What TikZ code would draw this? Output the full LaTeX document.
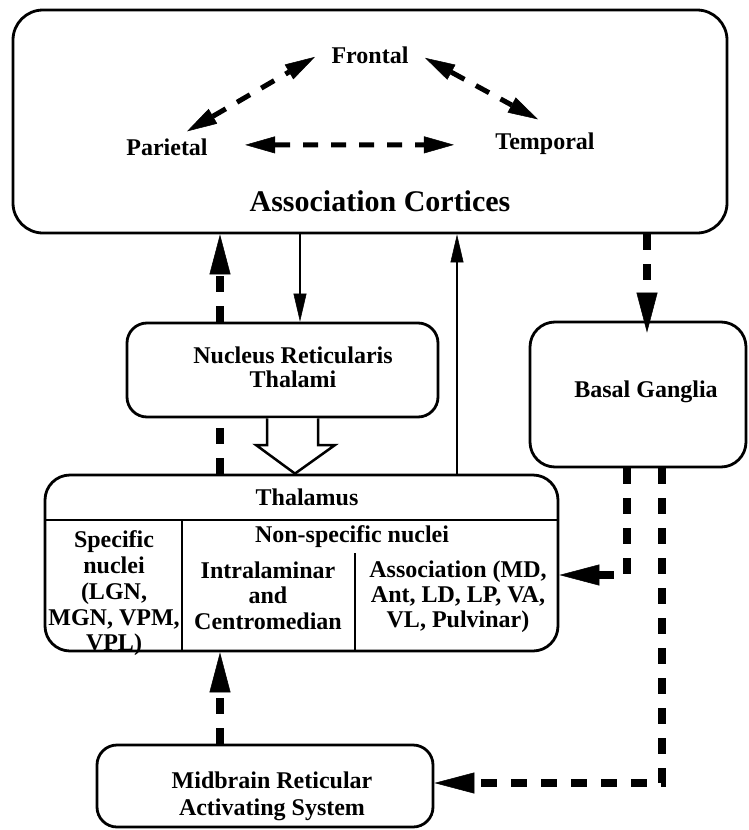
\documentclass[tikz,border=0pt]{standalone}
\usepackage{fontspec}
\setmainfont{Liberation Serif}
\usetikzlibrary{arrows.meta,calc}
\begin{document}
\begin{tikzpicture}[x=1pt,y=-1pt,
  box/.style={draw,line width=2.8pt,rounded corners=#1,inner sep=0pt,fill=white},
  box/.default=20pt,
  lbl/.style={inner sep=0pt,anchor=base,font=\fontsize{24}{26}\selectfont\bfseries},
  thinarrow/.style={line width=2pt,-{Triangle[length=28pt,width=13pt,line width=0.5pt]}},
  heavy/.style={line width=7.5pt,dash pattern=on 16pt off 14pt,-{Triangle[length=40pt,width=21pt,line width=0.5pt]}},
  heavyplain/.style={line width=7.5pt,dash pattern=on 16pt off 14pt},
  tri/.style={line width=5pt,dash pattern=on 15pt off 13pt,
    {Triangle[length=30pt,width=17pt,line width=0.5pt]}-{Triangle[length=30pt,width=17pt,line width=0.5pt]}},
]
\useasboundingbox (0,0) rectangle (749,830);

% boxes
\node[box=30pt,minimum width=714pt,minimum height=223pt] (cortex) at (370,121.5) {};
\node[box=20pt,minimum width=311pt,minimum height=94pt] (nrt) at (282.5,370) {};
\node[box=25pt,minimum width=216pt,minimum height=145pt] (bg) at (638,394.5) {};
\node[box=25pt,minimum width=513pt,minimum height=176pt] (thal) at (301.5,563) {};
\node[box=20pt,minimum width=336pt,minimum height=82pt] (mrf) at (265,786) {};

% thalamus interior
\draw[line width=2.6pt] (45,520) -- (558,520);
\draw[line width=2.6pt] (182,520) -- (182,651);
\draw[line width=2.6pt] (355,553) -- (355,651);

% cortex labels
\node[lbl] (fro) at (370,63) {Frontal};
\node[lbl] (par) at (167,155) {Parietal};
\node[lbl] (tem) at (545,149) {Temporal};
\node[lbl,font=\fontsize{30}{32}\selectfont\bfseries] (assoc) at (380,211) {Association Cortices};

% other labels
\node[lbl] (nrt1) at (293,363) {Nucleus Reticularis};
\node[lbl] (nrt2) at (293,387) {Thalami};
\node[lbl] (bgl) at (646,397) {Basal Ganglia};
\node[lbl] (thl) at (307,505) {Thalamus};
\node[lbl] (sp1) at (114,547) {Specific};
\node[lbl] (sp2) at (114,573) {nuclei};
\node[lbl] (sp3) at (114,599) {(LGN,};
\node[lbl] (sp4) at (114,625) {MGN, VPM,};
\node[lbl] (sp5) at (114,650) {VPL)};
\node[lbl] (ns) at (352,542) {Non-specific nuclei};
\node[lbl] (in1) at (268,578) {Intralaminar};
\node[lbl] (in2) at (268,603) {and};
\node[lbl] (in3) at (268,629) {Centromedian};
\node[lbl] (as1) at (458,577) {Association (MD,};
\node[lbl] (as2) at (458,602) {Ant, LD, LP, VA,};
\node[lbl] (as3) at (458,627) {VL, Pulvinar)};
\node[lbl] (mr1) at (272,788) {Midbrain Reticular};
\node[lbl] (mr2) at (272,815) {Activating System};

% arrows among cortices
\draw[tri] ($(par.north)+(20,-6.8)$) -- ($(fro.west)+(-16.4,2.1)$);
\draw[tri] ($(fro.east)+(16.4,3.1)$) -- ($(tem.north)+(-7,-12.8)$);
\draw[tri] ($(par.east)+(37.3,-1.9)$) -- ($(tem.west)+(-41.3,1.6)$);

% cortex <-> NRT / thalamus
\draw[thinarrow] (300,0 |- cortex.south) -- (300,0 |- nrt.north);
\draw[thinarrow] (457,0 |- thal.north) -- (457,0 |- cortex.south);
\draw[heavyplain] (220,0 |- thal.north) -- (220,0 |- nrt.south);
\draw[heavy] (220,0 |- nrt.north) -- (220,0 |- cortex.south);

% NRT -> thalamus hollow arrow
\draw[line width=2.5pt,fill=white,line join=miter]
  (267,0 |- nrt.south) -- (267,445) -- (256,445) -- (295,0 |- thal.north)
  -- (335,445) -- (318,445) -- (318,0 |- nrt.south);

% basal ganglia
\draw[heavy] (647,0 |- cortex.south) -- ($(647,0 |- bg.north)+(0,12)$);
\draw[heavy] (627,0 |- bg.south) |- (thal.east |- 0,575);
\draw[heavy] (662,0 |- bg.south) |- (mrf.east |- 0,783);

% midbrain -> thalamus
\draw[heavy] (220,0 |- mrf.north) -- (220,0 |- thal.south);
\end{tikzpicture}
\end{document}
